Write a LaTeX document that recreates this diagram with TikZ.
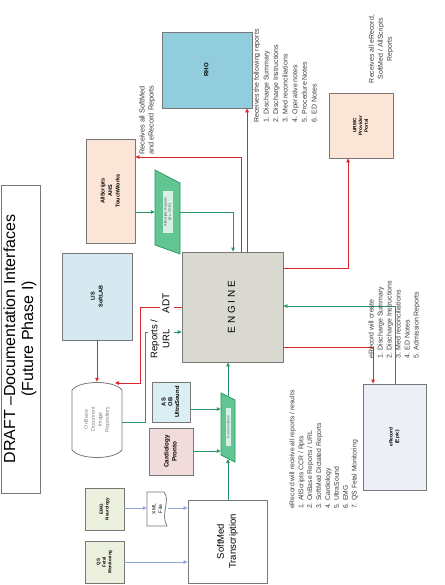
\documentclass[tikz,border=0pt]{standalone}
\usepackage{fontspec}
\setmainfont{Liberation Sans}
\usepackage{graphicx}
\usetikzlibrary{arrows.meta}
\newcommand\vtext[1]{\rotatebox{90}{\begin{tabular}{@{}c@{}}#1\end{tabular}}}
\newcommand\vtextl[1]{\rotatebox{90}{\begin{tabular}{@{}l@{}}#1\end{tabular}}}
\definecolor{lred}{RGB}{222,38,42}
\definecolor{lgreen}{RGB}{38,150,100}
\definecolor{lblue}{RGB}{140,168,214}
\definecolor{bordergray}{RGB}{120,120,120}
\definecolor{peach}{RGB}{251,229,214}
\definecolor{lisblue}{RGB}{214,233,241}
\definecolor{rhoblue}{RGB}{146,205,221}
\definecolor{olive}{RGB}{235,241,222}
\definecolor{cardpink}{RGB}{242,220,219}
\definecolor{obblue}{RGB}{219,238,244}
\definecolor{enggray}{RGB}{217,217,210}
\definecolor{epicgray}{RGB}{236,239,246}
\definecolor{shapegreen}{RGB}{98,198,146}
\definecolor{txtgray}{RGB}{60,60,60}
\begin{document}
\begin{tikzpicture}[x=1pt,y=-1pt,
  box/.style={draw=bordergray, line width=0.8pt, inner sep=0pt, align=center, text=black},
  redar/.style={draw=lred, line width=0.9pt, -{Triangle[length=4pt,width=3.6pt]}},
  greenar/.style={draw=lgreen, line width=0.9pt, -{Triangle[length=4pt,width=3.6pt]}},
  bluear/.style={draw=lblue, line width=0.9pt, -{Triangle[length=4pt,width=3.6pt]}},
  note/.style={inner sep=0pt, text=txtgray},
  lbl/.style={fill=white, inner sep=1pt, text=black}
]
\useasboundingbox (0,0) rectangle (444,585);
% title
\node[box, minimum width=39pt, minimum height=308pt, font=\fontsize{16}{18}\selectfont] (title) at (20.5,339) {\vtext{DRAFT –Documentation Interfaces\\(Future Phase I)}};
% boxes
\node[box, fill=peach, minimum width=49pt, minimum height=104pt, font=\bfseries\fontsize{5.5}{7.5}\selectfont] (ahs) at (110.5,191) {\vtext{AllScripts\\AHS\\TouchWorks}};
\node[box, fill=lisblue, minimum width=70pt, minimum height=87pt, font=\bfseries\fontsize{5.5}{8}\selectfont] (lis) at (97,296.5) {\vtext{LIS\\SoftLAB}};
\node[box, fill=rhoblue, minimum width=90pt, minimum height=76pt, font=\bfseries\fontsize{6}{7}\selectfont] (rho) at (207,70) {\vtext{RHO}};
\node[box, fill=peach, minimum width=64pt, minimum height=65pt, font=\bfseries\fontsize{4.8}{5.8}\selectfont] (urmc) at (361,125.5) {\vtext{URMC\\Provider\\Portal}};
\node[box, fill=epicgray, minimum width=63pt, minimum height=106pt, font=\bfseries\fontsize{4.8}{6}\selectfont] (erec) at (394.5,437) {\vtext{eRecord\\(Epic)}};
\node[box, fill=enggray, minimum width=101pt, minimum height=110pt, font=\fontsize{10}{12}\selectfont] (engine) at (232.5,307) {\vtext{E N G I N E}};
\node[box, fill=olive, minimum width=39pt, minimum height=42pt, font=\bfseries\fontsize{4.5}{5.8}\selectfont] (emg) at (104.5,509) {\vtext{EMG\\Neurology}};
\node[box, fill=olive, minimum width=39pt, minimum height=42pt, font=\bfseries\fontsize{4.5}{5.8}\selectfont] (qs) at (104.5,562) {\vtext{QS\\Fetal\\Monitoring}};
\node[box, fill=white, minimum width=79pt, minimum height=83pt, font=\fontsize{9.5}{12}\selectfont] (softmed) at (227.5,541.5) {\vtext{SoftMed\\Transcription}};
\node[box, fill=cardpink, minimum width=44pt, minimum height=47pt, font=\bfseries\fontsize{6.3}{8}\selectfont] (cardio) at (171,451.5) {\vtext{Cardiology\\Pronto}};
\node[box, fill=obblue, minimum width=38pt, minimum height=40pt, font=\bfseries\fontsize{5.8}{6.8}\selectfont] (asob) at (171,402) {\vtext{AS\\OB\\UltraSound}};
% OnBase cylinder
\draw[draw=bordergray, line width=0.8pt, fill=white] (72,390) .. controls (80,380) and (114,380) .. (122,390) -- (122,450) .. controls (114,460) and (80,460) .. (72,450) -- cycle;
\node[inner sep=0pt, minimum width=50pt, minimum height=75pt, text=gray, font=\fontsize{5.3}{7}\selectfont] (onbase) at (97,419.5) {\vtext{OnBase\\Document\\Image\\Repository}};
% XML document
\draw[draw=bordergray, line width=0.8pt, fill=white] (147,492) -- (164,492) .. controls (171,500) and (160,514) .. (167,526) -- (147,526) -- cycle;
\node[inner sep=0pt, minimum width=21pt, minimum height=34pt, font=\fontsize{5}{6.5}\selectfont] (xml) at (157.5,509) {\vtext{XML\\File}};
% green shapes
\draw[draw=lgreen, line width=0.7pt, fill=shapegreen] (155,170) -- (180,183) -- (180,254) -- (155,245) -- cycle;
\node[inner sep=0pt, minimum width=25pt, minimum height=84pt] (asr) at (167.5,212) {};
\node[fill=white!75!shapegreen, inner sep=0.6pt, minimum width=10pt, minimum height=41pt, text=white!30!black, font=\fontsize{3.6}{4.3}\selectfont] (asrl) at (168,212) {\vtext{AllScripts Reports\\(Ex. CCR)}};
\draw[draw=lgreen, line width=0.7pt, fill=shapegreen] (221,393) -- (235,400) -- (235,462) -- (221,455) -- cycle;
\node[inner sep=0pt, minimum width=14pt, minimum height=69pt] (doc) at (228,427.5) {};
\node[fill=white!75!shapegreen, inner sep=0.5pt, minimum width=5pt, minimum height=38pt, text=white!30!black, font=\fontsize{3.3}{4}\selectfont] (docl) at (228.5,427) {\vtext{Documentation}};
% coordinates
\coordinate (adtc) at (140,383);
\coordinate (obin) at (115,383);
\coordinate (rurl) at (145,332);
% red connectors
\draw[redar] (lis.south -| 97,0) -- (onbase.north -| 97,0);
\draw[redar] (engine.west |- 0,307) -| (adtc) -- (obin);
\draw[redar] (engine.north -| 247,0) -- (rho.south -| 247,0);
\draw[redar] (engine.north -| 241,0) |- (ahs.east |- 0,157);
\draw[redar] (engine.east |- 0,268) -| (urmc.south -| 348,0);
\draw[redar] (engine.east |- 0,347) -| (erec.north -| 373,0);
% green connectors
\draw[greenar] (erec.north -| 395,0) |- (engine.east |- 0,306);
\draw[greenar] (ahs.east |- 0,212) -- (asr.west |- 0,212);
\draw[greenar] (asr.east |- 0,212) -| (engine.north -| 233,0);
\draw[greenar] (onbase.east |- 0,422) -| (rurl) -- (engine.west |- rurl);
\draw[greenar] (asob.east |- 0,409) -- (doc.west |- 0,409);
\draw[greenar] (cardio.east |- 0,451) -- (doc.west |- 0,451);
\draw[greenar] (228,396) -- (engine.south -| 228,0);
\draw[greenar] (softmed.north -| 228,0) -- (228,459);
% blue connectors
\draw[bluear] (emg.east |- 0,508) -- (xml.west |- 0,508);
\draw[bluear] (xml.east |- 0,508) -- (softmed.west |- 0,508);
\draw[bluear] (qs.east |- 0,562) -- (softmed.west |- 0,562);
% connector labels
\node[lbl, font=\fontsize{10}{12}\selectfont] (adt) at (167,303) {\vtext{ADT}};
\node[lbl, font=\fontsize{9.5}{12}\selectfont] (repurl) at (161,339) {\vtext{Reports /\\URL}};
% notes
\node[note, anchor=south west, font=\fontsize{7.3}{9}\selectfont] (n1) at (138,155) {\vtextl{Receives all SoftMed\\and eRecord Reports}};
\node[note, anchor=south west, font=\fontsize{7}{9.6}\selectfont] (n2) at (252,123) {\vtextl{Receives the following reports\\1. Discharge Summary\\2. Discharge Instructions\\3. Med reconciliations\\4. Operative notes\\5. Procedure Notes\\6. ED Notes}};
\node[note, font=\fontsize{7}{9}\selectfont] (n3) at (381,49) {\vtext{Receives all eRecord,\\SoftMed / AllScripts\\Reports}};
\node[note, anchor=south west, font=\fontsize{7}{9}\selectfont] (n4) at (367,359) {\vtextl{eRecord will create\\1. Discharge Summary\\2. Discharge Instructions\\3. Med reconciliations\\4. ED Notes\\5. Admission Reports}};
\node[note, anchor=south west, font=\fontsize{6.8}{8.9}\selectfont] (n5) at (288,509) {\vtextl{eRecord will receive all reports / results\\1. AllScripts CCR / Rpts\\2. OnBase Reports / URL\\3. SoftMed Dictated Reports\\4. Cardiology\\5. UltraSound\\6. EMG\\7. QS Fetal Monitoring}};
\end{tikzpicture}
\end{document}
